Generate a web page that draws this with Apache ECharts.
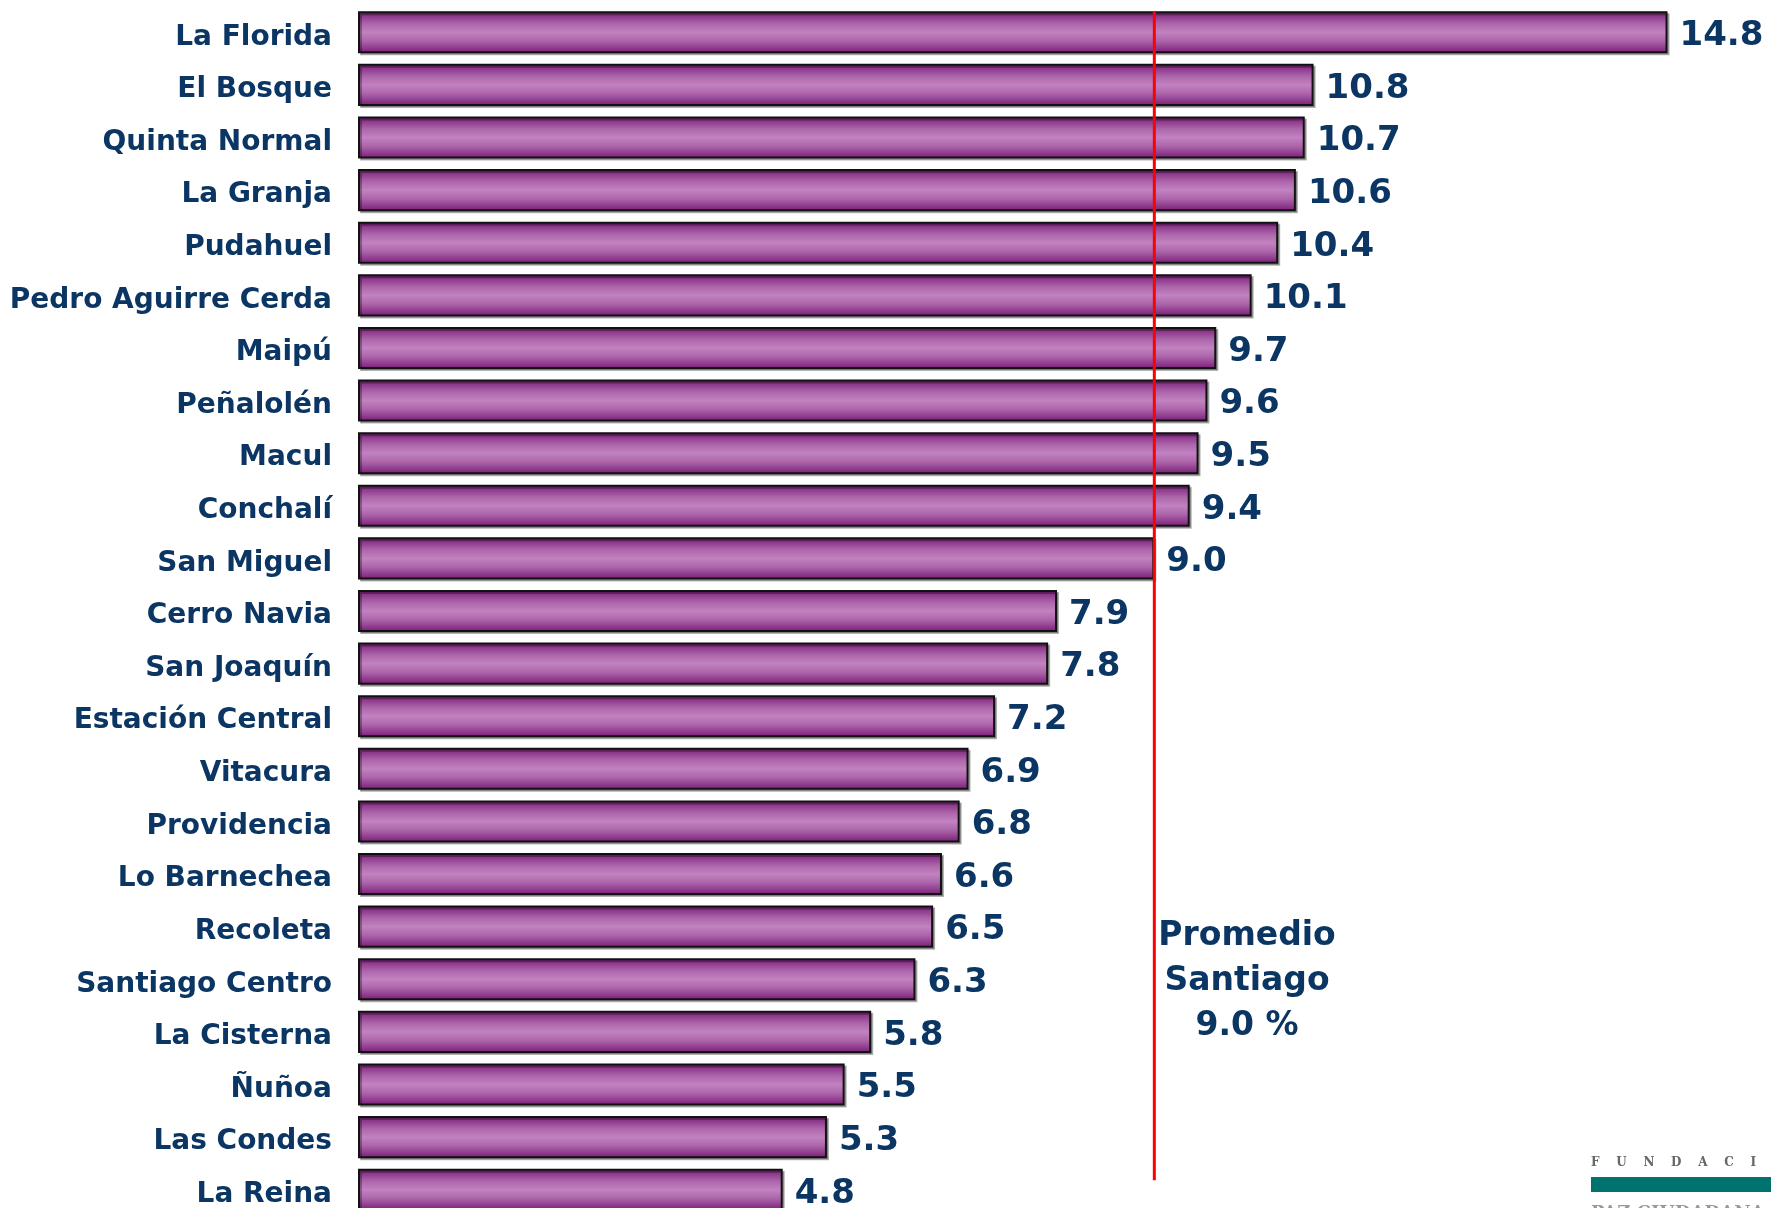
<!DOCTYPE html>
<html>
<head>
<meta charset="utf-8">
<title>Comunas</title>
<script src="https://cdn.jsdelivr.net/npm/echarts@6/dist/echarts.min.js"></script>
<style>
  html, body { margin: 0; padding: 0; background: #fff; }
  #chart { width: 1771px; height: 1208px; }
</style>
</head>
<body>
<div id="chart"></div>
<script>
// datos
var comunas = ['La Florida', 'El Bosque', 'Quinta Normal', 'La Granja', 'Pudahuel',
    'Pedro Aguirre Cerda', 'Maipú', 'Peñalolén', 'Macul', 'Conchalí', 'San Miguel',
    'Cerro Navia', 'San Joaquín', 'Estación Central', 'Vitacura', 'Providencia',
    'Lo Barnechea', 'Recoleta', 'Santiago Centro', 'La Cisterna', 'Ñuñoa',
    'Las Condes', 'La Reina'];
var valores = [14.8, 10.8, 10.7, 10.6, 10.4, 10.1, 9.7, 9.6, 9.5, 9.4, 9.0,
    7.9, 7.8, 7.2, 6.9, 6.8, 6.6, 6.5, 6.3, 5.8, 5.5, 5.3, 4.8];
var promedio = 9.0;
// la linea roja va de la primera barra hasta un poco antes de la última
var lineaPromedio = [[promedio, 0.1], [promedio, 22.32]];

var azul = '#0b3563';

var myChart = echarts.init(document.getElementById('chart'));

var option = {
    backgroundColor: '#fff',
    animation: false,
    grid: {
        left: 358,
        right: 15,
        top: 6,
        height: 1210,
        // la ultima barra queda cortada por el borde, no ajustar
        outerBoundsMode: 'none'
    },
    xAxis: {
        type: 'value',
        min: 0,
        max: 15.8,
        show: false
    },
    yAxis: [{
        type: 'category',
        data: comunas,
        inverse: true,
        axisLine: { show: false },
        axisTick: { show: false },
        axisLabel: {
            margin: 26,
            formatter: function (v) { return '{n|' + v + '}'; },
            rich: {
                // bajar un poco el texto respecto al centro de la barra
                n: {
                    color: azul,
                    fontFamily: 'DejaVu Sans',
                    fontWeight: 'bold',
                    fontSize: 28,
                    lineHeight: 38,
                    verticalAlign: 'bottom'
                }
            }
        }
    }, {
        // eje oculto para ubicar la linea del promedio
        type: 'value',
        min: 0,
        max: 23,
        inverse: true,
        show: false
    }],
    series: [{
        type: 'bar',
        data: valores,
        barCategoryGap: '20%',
        itemStyle: {
            color: new echarts.graphic.LinearGradient(0, 0, 0, 1, [
                { offset: 0, color: '#7a1878' },
                { offset: 0.12, color: '#8e3a8c' },
                { offset: 0.3, color: '#ad66ab' },
                { offset: 0.5, color: '#c282c0' },
                { offset: 0.7, color: '#ad66ab' },
                { offset: 0.88, color: '#8e3a8c' },
                { offset: 1, color: '#7a1878' }
            ]),
            borderColor: '#111',
            borderWidth: 2,
            shadowColor: 'rgba(0,0,0,0.3)',
            shadowOffsetX: 2,
            shadowOffsetY: 2
        },
        label: {
            show: true,
            position: 'right',
            distance: 12,
            color: azul,
            fontFamily: 'DejaVu Sans',
            fontWeight: 'bold',
            fontSize: 34,
            offset: [0, 4],
            formatter: function (p) { return p.value.toFixed(1); }
        }
    }, {
        type: 'line',
        yAxisIndex: 1,
        data: lineaPromedio,
        symbol: 'none',
        z: 5,
        lineStyle: { color: '#ff0000', width: 3 }
    }],
    graphic: [{
        type: 'text',
        x: 1247,
        y: 914,
        style: {
            text: 'Promedio\nSantiago\n9.0 %',
            align: 'center',
            verticalAlign: 'top',
            fill: azul,
            font: 'bold 33px "DejaVu Sans"',
            lineHeight: 45,
            textShadowColor: 'rgba(0,0,0,0.25)',
            textShadowOffsetX: 2,
            textShadowOffsetY: 2
        }
    }, {
        // logo de la fundación (cortado en la esquina)
        type: 'text',
        left: 1591,
        top: 1157,
        style: {
            text: 'F    U    N    D    A    C    I    Ó    N',
            fill: '#666',
            font: 'bold 12px "DejaVu Serif"'
        }
    }, {
        type: 'rect',
        left: 1591,
        top: 1177,
        shape: { width: 190, height: 15 },
        style: { fill: '#00736e' }
    }, {
        type: 'text',
        left: 1591,
        top: 1205,
        style: {
            text: 'PAZ CIUDADANA',
            fill: '#999',
            font: 'bold 18px "DejaVu Serif"'
        }
    }]
};

myChart.setOption(option);
</script>
</body>
</html>
